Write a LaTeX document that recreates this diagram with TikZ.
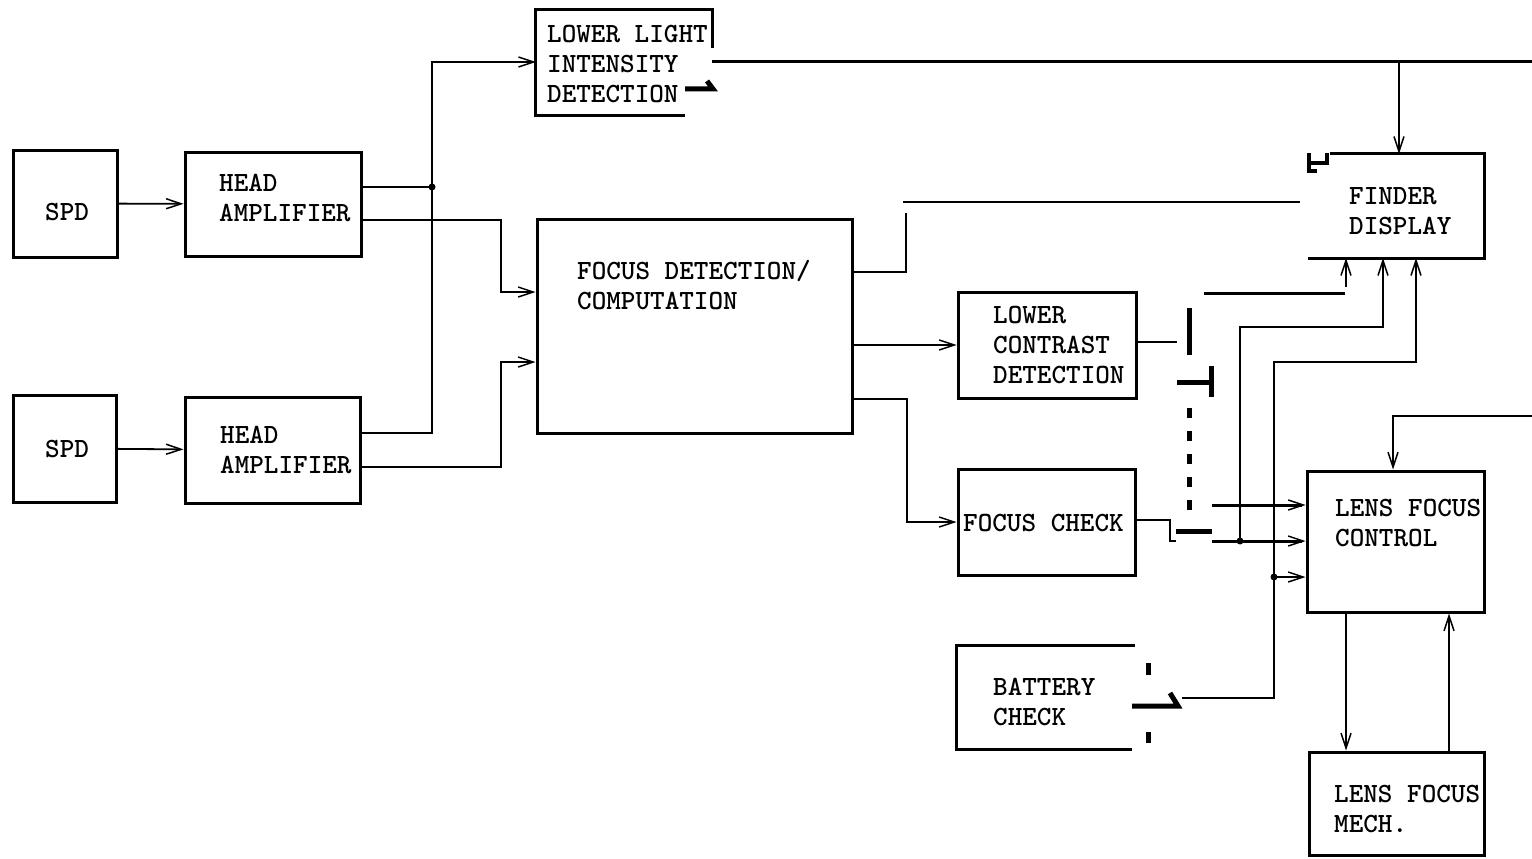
\documentclass[tikz,border=0pt]{standalone}
\usepackage{fontspec}
\usetikzlibrary{arrows.meta,calc}

\tikzset{
  blk/.style={draw, line width=3pt, inner sep=0pt},
  lbl/.style={font=\fontsize{27.8}{30}\selectfont\ttfamily\bfseries, align=left, inner sep=0pt, anchor=west},
  wire/.style={line width=1.8pt},
  heavy/.style={line width=3pt},
  arr/.style={wire, -{Straight Barb[length=15pt,width=10pt,line width=1.5pt]}},
  bar/.style={line width=5pt},
}

\begin{document}
\begin{tikzpicture}[x=1pt,y=-1pt]
    \useasboundingbox (0,0) rectangle (1532,859);

    % Sensors and head amplifiers
    \node[blk, minimum width=104, minimum height=107] (spd1) at (65,203.5) {};
    \node[blk, minimum width=103, minimum height=107] (spd2) at (64.5,448.5) {};
    \node[blk, minimum width=176, minimum height=104] (amp1) at (273,204) {};
    \node[blk, minimum width=175, minimum height=106] (amp2) at (272.5,450) {};
    \node[lbl] (spd1t) at (45,212) {SPD};
    \node[lbl] (spd2t) at (45,449.5) {SPD};
    \node[lbl] (amp1t) at (219,198) {HEAD\\AMPLIFIER};
    \node[lbl] (amp2t) at (220,450) {HEAD\\AMPLIFIER};

    % Detection blocks
    \node[minimum width=176, minimum height=105, inner sep=0pt] (light) at (624,62.5) {};
    \node[blk, minimum width=315, minimum height=214] (focus) at (694.5,326) {};
    \node[blk, minimum width=178, minimum height=106] (contrast) at (1047,345) {};
    \node[blk, minimum width=177, minimum height=106] (check) at (1046.5,522) {};
    \node[minimum width=178, minimum height=103, inner sep=0pt] (battery) at (1046,697.5) {};
    \node[lbl] (lightt) at (547,64) {LOWER LIGHT\\INTENSITY\\DETECTION};
    \node[lbl] (focust) at (577,285) {FOCUS DETECTION/\\COMPUTATION};
    \node[lbl] (contrastt) at (993,345.5) {LOWER\\CONTRAST\\DETECTION};
    \node[lbl] (checkt) at (963,523) {FOCUS CHECK};
    \node[lbl] (batteryt) at (993,702) {BATTERY\\CHECK};

    % Display and lens blocks
    \node[minimum width=176, minimum height=104, inner sep=0pt] (finder) at (1396,206) {};
    \node[blk, minimum width=177, minimum height=141] (lensctl) at (1395.5,541.5) {};
    \node[blk, minimum width=175, minimum height=103] (lensmech) at (1396.5,803.5) {};
    \node[lbl] (findert) at (1349,211) {FINDER\\DISPLAY};
    \node[lbl] (lensctlt) at (1335,523) {LENS FOCUS\\CONTROL};
    \node[lbl] (lensmecht) at (1334,809) {LENS FOCUS\\MECH.};

    % Open box edges
    \draw[heavy] ([yshift=-38]light.north east) -- (light.north east) -- (light.north west)
        -- (light.south west) -- ([xshift=-27]light.south east);
    \draw[heavy] (battery.north east) -- (battery.north west) -- (battery.south west)
        -- ([xshift=-3]battery.south east);
    \draw[heavy] ([xshift=22]finder.north west) -- (finder.north east) -- (finder.south east)
        -- (finder.south west);

    % Contacts
    \draw[bar] (685,89) -- (713,89) -- (707,81);
    \draw[line width=3.5pt] (1309,153) -- (1309,171) -- (1317,171);
    \draw[line width=3.5pt] (1309,163) -- (1327,163) -- (1327,153);
    \draw[bar] (1189,308) -- (1189,355);
    \draw[bar] (1177,382) -- (1211,382);
    \draw[bar] (1211,366) -- (1211,397);
    \draw[bar, dash pattern=on 10pt off 13pt] (1189,408) -- (1189,512);
    \draw[bar] (1176,531) -- (1212,531);
    \draw[bar] (1148,663) -- (1148,675);
    \draw[bar] (1148,732) -- (1148,743);
    \draw[bar] (1132,706) -- (1178,706) -- (1170,693);

    % Free ends and junctions
    \coordinate (j1) at (432,187);
    \coordinate (j2) at (1240,541);
    \coordinate (j3) at (1274,577);
    \coordinate (gapa) at (906,213);
    \coordinate (gapb) at (903,202);
    \coordinate (fdin) at (1300,202);
    \coordinate (swa) at (1204,293);
    \coordinate (swb) at (1212,505);
    \coordinate (swc) at (1212,541);
    \coordinate (batout) at (1182,698);
    \coordinate (rtop) at (1532,62);
    \coordinate (rmid) at (1532,416);

    % Amplifier outputs
    \draw[arr] (spd1) -- (amp1);
    \draw[arr] (spd2) -- (amp2);
    \draw[wire] (amp1.east |- j1) -- (j1);
    \draw[arr] (amp2.east |- 0,433) -| (j1) |- (light.west |- 0,62);
    \fill (j1) circle (3.5);
    \draw[arr] (amp1.east |- 0,220) -- (501,220) |- (focus.west |- 0,292);
    \draw[arr] (amp2.east |- 0,467) -- (501,467) |- (focus.west |- 0,362);

    % Focus detection outputs
    \draw[wire] (focus.east |- 0,272) -| (gapa);
    \draw[wire] (gapb) -- (fdin);
    \draw[arr] (focus.east |- contrast.west) -- (contrast.west);
    \draw[arr] (focus.east |- 0,399) -| (907,470) |- (check.west);
    \draw[wire] (contrast.east |- 0,342) -- (1177,342);
    \draw[wire] (check.east |- 0,520) -- (1170,520) |- (1176,541);

    % Into finder display
    \draw[heavy] (light.east |- rtop) -- (rtop);
    \draw[arr] (1399,62) -- (finder.north -| 1399,0);
    \draw[heavy] (swa) -- (1345,293);
    \draw[arr] (1346,287) -- (finder.south -| 1346,0);
    \draw[arr] (j2) |- (1383,327) -- (finder.south -| 1383,0);
    \draw[arr] (batout) -| (1274,362) -| (finder.south -| 1416,0);

    % Into lens focus control
    \draw[arr, heavy] (swb) -- (lensctl.west |- swb);
    \draw[arr, heavy] (swc) -- (lensctl.west |- swc);
    \draw[arr] (j3) -- (lensctl.west |- j3);
    \fill (j2) circle (3.5);
    \fill (j3) circle (3.5);
    \draw[arr] (rmid) -| (lensctl.north -| 1393,0);
    \draw[arr] (lensctl.south -| 1346,0) -- (lensmech.north -| 1346,0);
    \draw[arr] (lensmech.north -| 1449,0) -- (lensctl.south -| 1449,0);
\end{tikzpicture}
\end{document}
